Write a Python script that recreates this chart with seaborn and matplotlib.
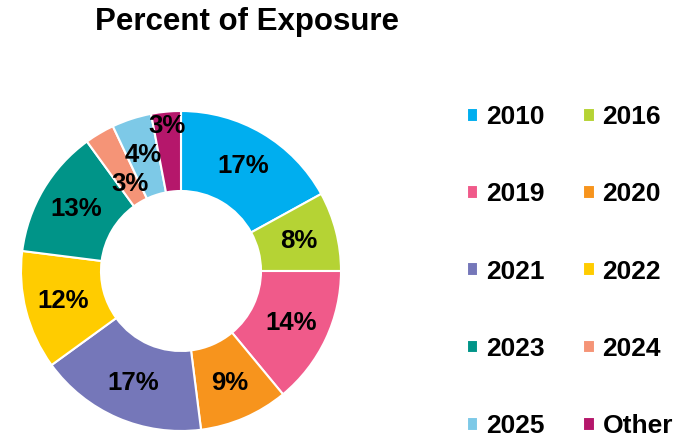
import numpy as np
import matplotlib
matplotlib.use("Agg")
import matplotlib.pyplot as plt
import seaborn as sns

years = ['2010', '2016', '2019', '2020', '2021', '2022', '2023', '2024', '2025', 'Other']
shares = [17, 8, 14, 9, 17, 12, 13, 3, 4, 3]
colors = ['#00AEEF', '#B5D334', '#F05A8A', '#F7941D', '#7577B9',
          '#FFCC00', '#009488', '#F59477', '#7DC9E7', '#B5176B']
# radial position of each percent label (fraction of outer radius)
label_radius = [0.76, 0.76, 0.76, 0.76, 0.76, 0.76, 0.76, 0.63, 0.76, 0.91]

sns.set_theme(style="white")
plt.rcParams['font.family'] = ['Liberation Sans', 'DejaVu Sans']
plt.rcParams['text.color'] = 'black'

fig = plt.figure(figsize=(6.98, 4.4), dpi=100)
ax = fig.add_axes([21 / 698, 9 / 440, 320 / 698, 320 / 440])

wedges, _ = ax.pie(
    shares,
    colors=colors,
    startangle=90,
    counterclock=False,
    radius=1.0,
    wedgeprops=dict(width=0.5, edgecolor='white', linewidth=1.5),
)
ax.set_xlim(-1, 1)
ax.set_ylim(-1, 1)
ax.set_aspect('equal')
ax.axis('off')

for w, val, r in zip(wedges, shares, label_radius):
    ang = np.deg2rad((w.theta1 + w.theta2) / 2)
    ax.text(r * np.cos(ang), r * np.sin(ang), f"{val}%",
            ha='center', va='center', fontsize=18.5, fontweight='bold', color='black')

fig.text(247 / 698, 1 - 22 / 440, "Percent of Exposure",
         ha='center', va='center', fontsize=22.5, fontweight='bold', color='black')

# legend is filled row by row in the reference
order = list(range(0, len(years), 2)) + list(range(1, len(years), 2))
leg = fig.legend(
    [wedges[i] for i in order], [years[i] for i in order],
    loc='upper left', bbox_to_anchor=(467 / 698, 1 - 105 / 440),
    ncol=2, frameon=False,
    prop=dict(size=19, weight='bold'),
    handlelength=0.43, handleheight=0.43, handletextpad=0.3,
    columnspacing=1.45, labelspacing=2.02, borderpad=0, borderaxespad=0,
)

fig.savefig("out.png", dpi=100)
